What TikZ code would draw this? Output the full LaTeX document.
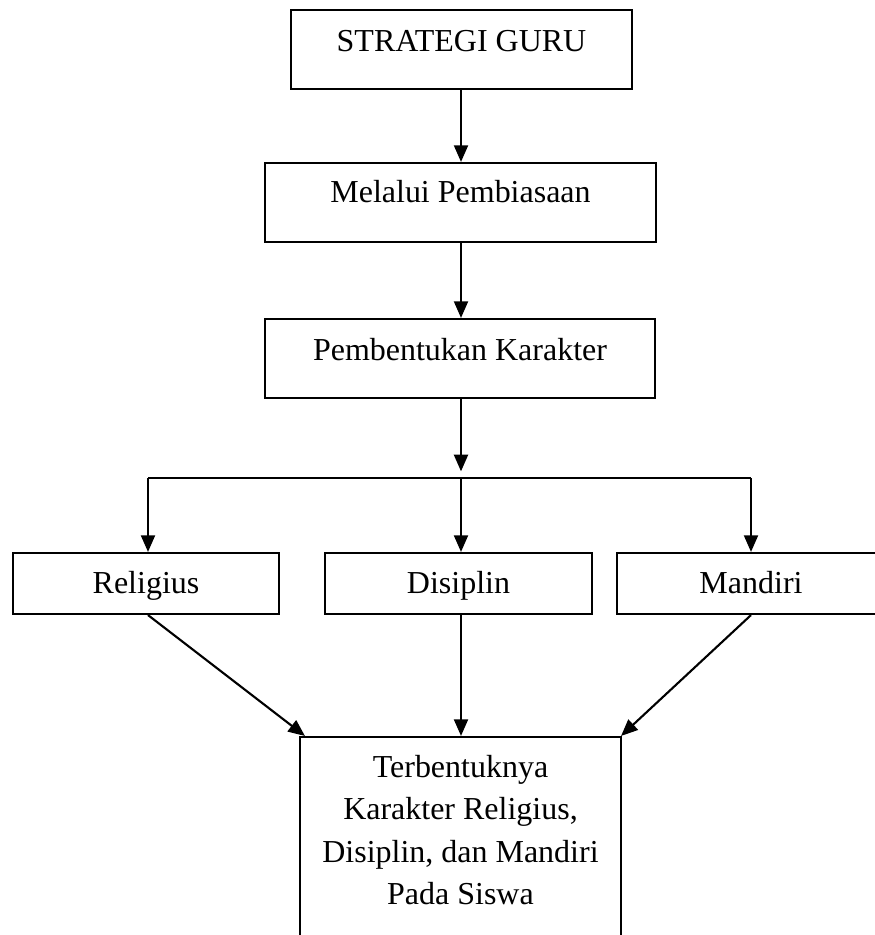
\documentclass[tikz,border=0pt]{standalone}
\usepackage{fontspec}
\setmainfont{Liberation Serif}
\usetikzlibrary{arrows.meta}

\tikzset{
  kotak/.style={draw, line width=1.8pt, inner sep=0pt, anchor=base,
    font=\fontsize{27.3pt}{36.4pt}\selectfont},
  garis/.style={line width=1.8pt},
  panah/.style={garis, -{Triangle[length=0.5cm,width=0.42cm]}}
}

\begin{document}
\begin{tikzpicture}[x=0.03cm,y=-0.03cm]
\useasboundingbox (0,0) rectangle (874,935);
% kotak utama
\node[kotak, minimum width=10.23cm, text height=1.26cm, text depth=1.11cm] (guru) at (461.5,52) {STRATEGI GURU};
\node[kotak, minimum width=11.73cm, text height=1.2cm, text depth=1.17cm] (pembiasaan) at (460.5,203) {Melalui Pembiasaan};
\node[kotak, minimum width=11.7cm, text height=1.23cm, text depth=1.14cm] (pembentukan) at (460,360) {Pembentukan Karakter};
% tiga karakter
\node[kotak, minimum width=7.98cm, text height=1.2cm, text depth=0.63cm] (religius) at (146,593) {Religius};
\node[kotak, minimum width=8.01cm, text height=1.2cm, text depth=0.63cm] (disiplin) at (458.5,593) {Disiplin};
\node[kotak, minimum width=8.04cm, text height=1.2cm, text depth=0.63cm] (mandiri) at (751,593) {Mandiri};
% hasil
\node[kotak, text width=9.63cm, align=flush center, text height=1.2cm, text depth=5.19cm] (hasil) at (460.5,777)
  {Terbentuknya\\ Karakter Religius,\\ Disiplin, dan Mandiri\\ Pada Siswa};
\coordinate (cabang) at (461,478);
\coordinate (kiri) at (148,478);
\coordinate (kanan) at (751,478);
\draw[panah] (cabang |- guru.south) -- (cabang |- pembiasaan.north);
\draw[panah] (cabang |- pembiasaan.south) -- (cabang |- pembentukan.north);
\draw[panah, shorten >=0.2cm] (cabang |- pembentukan.south) -- (cabang);
\draw[garis] (kiri) -- (kanan);
\draw[panah] (kiri) -- (kiri |- religius.north);
\draw[panah] (cabang) -- (cabang |- disiplin.north);
\draw[panah] (kanan) -- (kanan |- mandiri.north);
\draw[panah] (kiri |- religius.south) -- ([xshift=0.18cm]hasil.north west);
\draw[panah] (cabang |- disiplin.south) -- (cabang |- hasil.north);
\draw[panah] (mandiri.south) -- ([xshift=-0.03cm]hasil.north east);
\end{tikzpicture}
\end{document}
